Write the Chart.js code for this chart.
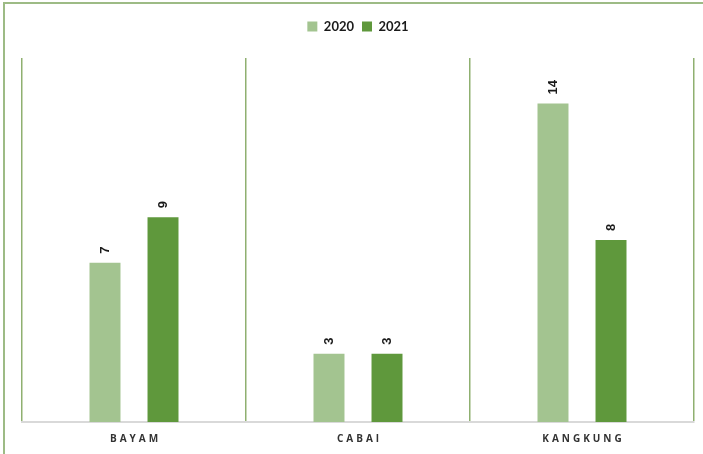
<!DOCTYPE html>
<html>
<head>
<meta charset="utf-8">
<script src="https://cdn.jsdelivr.net/npm/chart.js@4.4.1/dist/chart.umd.min.js"></script>
<style>
  html, body { margin: 0; padding: 0; background: #fff; }
  #wrap { width: 703px; height: 454px; position: relative; }
</style>
</head>
<body>
<div id="wrap"><canvas id="c" width="703" height="454"></canvas></div>
<script>
const categories = ['BAYAM', 'CABAI', 'KANGKUNG'];
const seriesNames = ['2020', '2021'];
const values2020 = [7, 3, 14];
const values2021 = [9, 3, 8];
const yMax = 16;

const colors = ['#a3c490', '#5f983c'];

const legendGap = {
  id: 'legendGap',
  afterInit(chart) {
    const lg = chart.legend;
    if (!lg) return;
    const orig = lg.fit;
    lg.fit = function () {
      orig.call(this);
      this.height += 15;
    };
  }
};

const frameAndLabels = {
  id: 'frameAndLabels',
  beforeDraw(chart) {
    const ctx = chart.ctx;
    ctx.save();
    ctx.fillStyle = '#fff';
    ctx.fillRect(0, 0, chart.width, chart.height);
    ctx.strokeStyle = '#9dbb85';
    ctx.lineWidth = 2;
    ctx.beginPath();
    ctx.moveTo(4, chart.height);
    ctx.lineTo(4, 3);
    ctx.lineTo(chart.width, 3);
    ctx.stroke();
    ctx.restore();
  },
  afterDatasetsDraw(chart) {
    const ctx = chart.ctx;
    ctx.save();
    ctx.fillStyle = '#1a1a1a';
    ctx.font = 'bold 13px "Liberation Sans", Arial, sans-serif';
    chart.data.datasets.forEach((ds, i) => {
      const meta = chart.getDatasetMeta(i);
      meta.data.forEach((bar, j) => {
        ctx.save();
        ctx.translate(bar.x, bar.y - 9);
        ctx.rotate(-Math.PI / 2);
        ctx.textAlign = 'left';
        ctx.textBaseline = 'middle';
        ctx.fillText(String(ds.data[j]), 0, 0);
        ctx.restore();
      });
    });
    // x category labels with letter spacing
    const xs = chart.scales.x;
    ctx.fillStyle = '#333333';
    ctx.font = 'bold 10px "Open Sans", sans-serif';
    ctx.textAlign = 'center';
    ctx.textBaseline = 'middle';
    if ('letterSpacing' in ctx) ctx.letterSpacing = '3px';
    categories.forEach((c, i) => {
      const x = xs.getPixelForValue(i);
      ctx.fillText(c, x + 1.5, chart.chartArea.bottom + 17);
    });
    ctx.restore();
  }
};

new Chart(document.getElementById('c'), {
  type: 'bar',
  data: {
    labels: categories,
    datasets: [
      { label: seriesNames[0], data: values2020, backgroundColor: colors[0], categoryPercentage: 0.518, barPercentage: 0.534 },
      { label: seriesNames[1], data: values2021, backgroundColor: colors[1], categoryPercentage: 0.518, barPercentage: 0.534 }
    ]
  },
  options: {
    responsive: false,
    animation: false,
    layout: { padding: { left: 22, right: 9, top: 12, bottom: 32 } },
    plugins: {
      legend: {
        position: 'top',
        align: 'center',
        labels: {
          boxWidth: 10,
          boxHeight: 10,
          padding: 8,
          color: '#1a1a1a',
          font: { family: 'Lato, "Open Sans", sans-serif', weight: 'bold', size: 13 }
        }
      },
      tooltip: { enabled: false }
    },
    scales: {
      x: {
        grid: { display: true, offset: true, color: '#8fb070', lineWidth: 1.5, drawTicks: false },
        border: { display: true, color: '#d9d9d9', width: 2 },
        ticks: { display: false }
      },
      y: {
        display: false,
        min: 0,
        max: yMax
      }
    }
  },
  plugins: [legendGap, frameAndLabels]
});
</script>
</body>
</html>
